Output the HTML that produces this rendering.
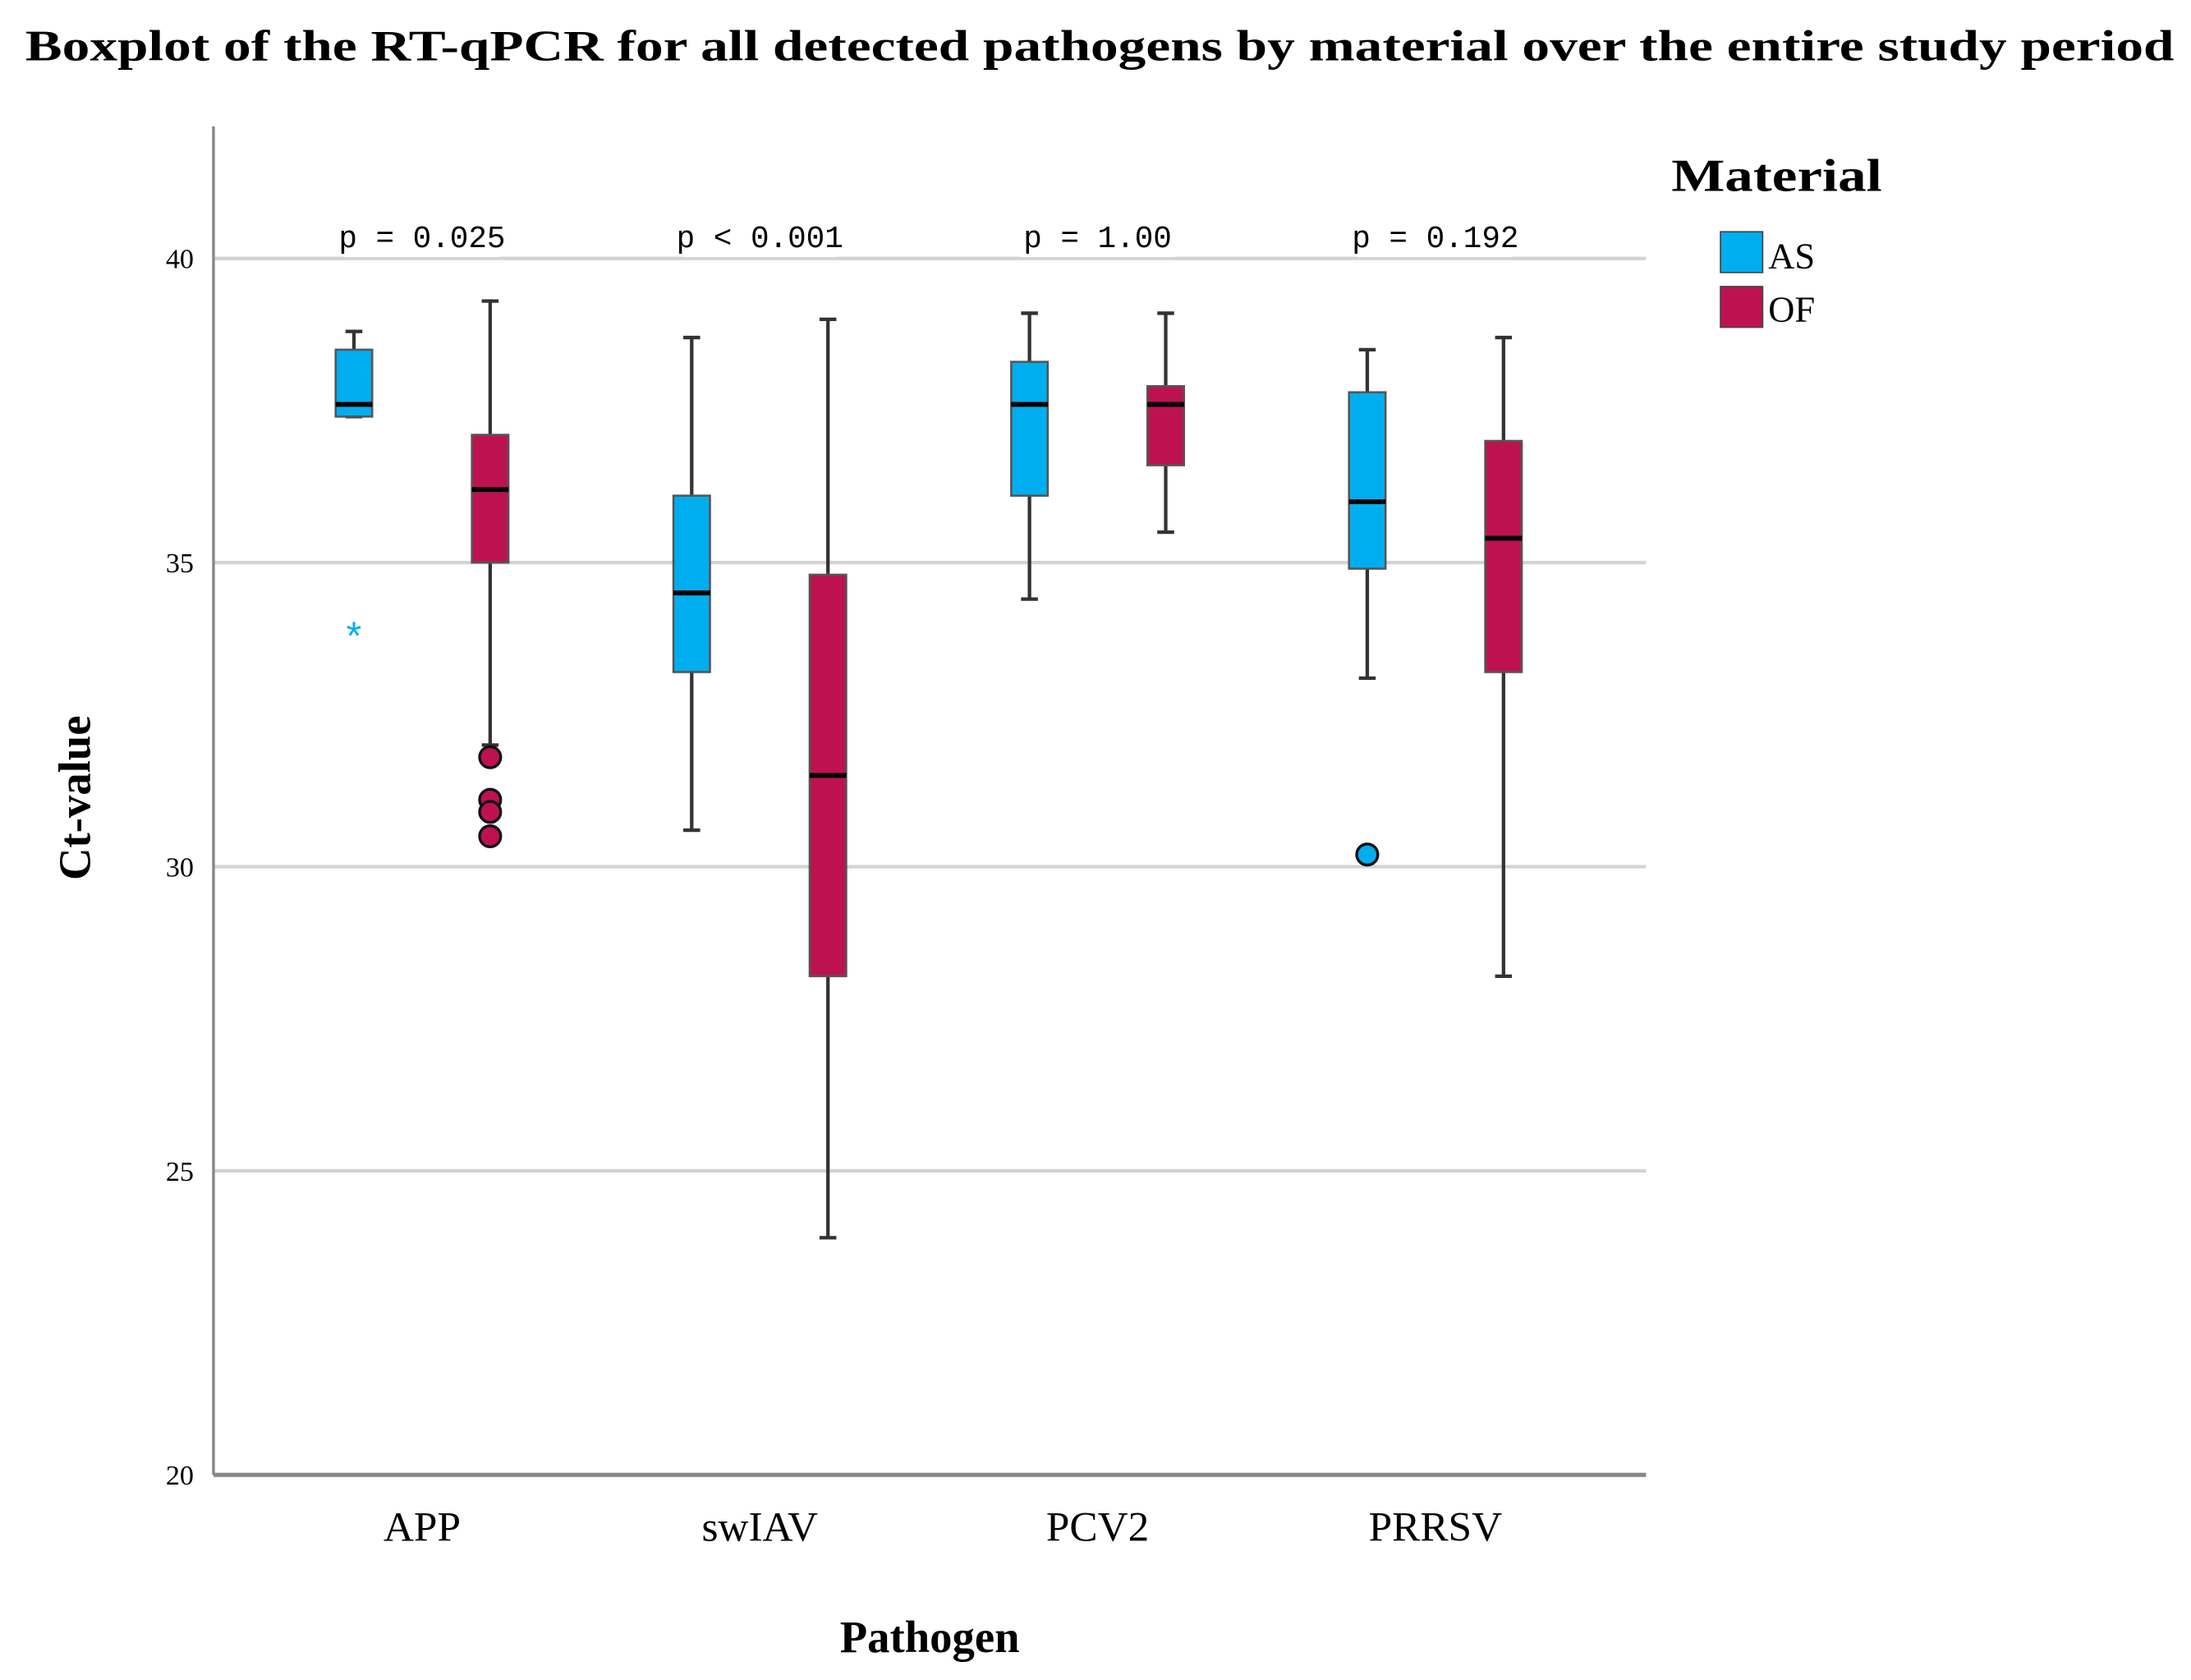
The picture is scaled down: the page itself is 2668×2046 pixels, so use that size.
<!DOCTYPE html>
<html><head><meta charset="utf-8"><style>
html,body{margin:0;padding:0;background:#fff;}
svg{display:block;}
</style></head><body>
<svg id="chart" width="2668" height="2046" viewBox="0 0 1560 1196" preserveAspectRatio="none" xmlns="http://www.w3.org/2000/svg" font-family="'Liberation Serif', serif">
<text x="18" y="43" font-size="31" font-weight="bold" textLength="1530" lengthAdjust="spacingAndGlyphs">Boxplot of the RT-qPCR for all detected pathogens by material over the entire study period</text>
<g id="grid"></g>
<g id="plot"></g>
<line x1="152" y1="90" x2="152" y2="1050" stroke="#888" stroke-width="2"/>
<line x1="152" y1="1050" x2="1172" y2="1050" stroke="#888" stroke-width="3"/>
<text transform="translate(64,568) rotate(-90)" text-anchor="middle" font-size="32" font-weight="bold">Ct-value</text>
<text x="662" y="1176" text-anchor="middle" font-size="32" font-weight="bold">Pathogen</text>
<g>
<text x="1190" y="136" font-size="33" font-weight="bold" textLength="150" lengthAdjust="spacingAndGlyphs">Material</text>
<rect x="1225" y="165" width="30" height="29" fill="#00aeef" stroke="#444" stroke-width="1"/>
<text x="1259" y="191" font-size="26">AS</text>
<rect x="1225" y="204" width="30" height="29" fill="#be1250" stroke="#444" stroke-width="1"/>
<text x="1259" y="229" font-size="26">OF</text>
</g>
</svg>
<script>
const categories = ["APP", "swIAV", "PCV2", "PRRSV"];
const pValues = ["p = 0.025", "p < 0.001", "p = 1.00", "p = 0.192"];
const yTicks = [20, 25, 30, 35, 40];
// [whiskerLow, Q1, median, Q3, whiskerHigh]
const asStats = [[37.4, 37.4, 37.6, 38.5, 38.8],[30.6, 33.2, 34.5, 36.1, 38.7],[34.4, 36.1, 37.6, 38.3, 39.1],[33.1, 34.9, 36.0, 37.8, 38.5]];
const ofStats = [[32.0, 35.0, 36.2, 37.1, 39.3],[23.9, 28.2, 31.5, 34.8, 39.0],[35.5, 36.6, 37.6, 37.9, 39.1],[28.2, 33.2, 35.4, 37.0, 38.7]];
const asOutliers = [[], [], [], [30.2]];
const asExtremes = [[33.9], [], [], []];
const ofOutliers = [[31.8, 31.1, 30.9, 30.5], [], [], []];

const NS = "http://www.w3.org/2000/svg";
const y = v => 1050 - (v - 20) * 43.3;
const xc = i => 300.5 + i * 240.5;
function mk(tag, attrs, parent) {
  const e = document.createElementNS(NS, tag);
  for (const k in attrs) e.setAttribute(k, attrs[k]);
  parent.appendChild(e);
  return e;
}
const grid = document.getElementById("grid");
const plot = document.getElementById("plot");
yTicks.forEach(t => {
  if (t > 20) {
    const l = mk("line", {x1: 152, x2: 1172, y1: y(t), y2: y(t), stroke: "#d3d3d3", "stroke-width": 2.5}, grid);
    
    
  }
  const tx = mk("text", {x: 138, y: y(t) + 7, "text-anchor": "end", "font-size": 20}, grid);
  tx.textContent = t;
  
  
});
function drawBox(cx, s, fill, name) {
  const g = mk("g", {}, plot);
  
  
  mk("line", {x1: cx, x2: cx, y1: y(s[4]), y2: y(s[0]), stroke: "#333", "stroke-width": 2.5}, g);
  mk("line", {x1: cx - 6, x2: cx + 6, y1: y(s[4]), y2: y(s[4]), stroke: "#333", "stroke-width": 2.5}, g);
  mk("line", {x1: cx - 6, x2: cx + 6, y1: y(s[0]), y2: y(s[0]), stroke: "#333", "stroke-width": 2.5}, g);
  mk("rect", {x: cx - 13, y: y(s[3]), width: 26, height: Math.max(1, y(s[1]) - y(s[3])), fill: fill, stroke: "#555", "stroke-width": 1.5}, g);
  mk("line", {x1: cx - 13, x2: cx + 13, y1: y(s[2]), y2: y(s[2]), stroke: "#000", "stroke-width": 3.5}, g);
}
categories.forEach((c, i) => {
  const cx = xc(i);
  const bg = mk("rect", {x: cx - 55, y: y(40) - 28, width: 110, height: 27, fill: "#fff"}, plot);
  
  
  const pt = mk("text", {x: cx, y: y(40) - 8, "text-anchor": "middle", "font-size": 22, "font-family": "'Liberation Mono', monospace"}, plot);
  pt.textContent = pValues[i];
  
  
  const cl = mk("text", {x: cx, y: 1097, "text-anchor": "middle", "font-size": 30}, plot);
  cl.textContent = c;
  
  
  drawBox(cx - 48.5, asStats[i], "#00aeef", "box-as-" + c);
  drawBox(cx + 48.5, ofStats[i], "#be1250", "box-of-" + c);
  asOutliers[i].forEach(v => {
    const o = mk("circle", {cx: cx - 48.5, cy: y(v), r: 7.5, fill: "#00aeef", stroke: "#111", "stroke-width": 2}, plot);
    
    
  });
  ofOutliers[i].forEach(v => {
    const o = mk("circle", {cx: cx + 48.5, cy: y(v), r: 7.5, fill: "#be1250", stroke: "#111", "stroke-width": 2}, plot);
    
    
  });
  asExtremes[i].forEach(v => {
    const o = mk("text", {x: cx - 48.5, y: y(v) + 14, "text-anchor": "middle", "font-size": 28, fill: "#00aeef", "font-family": "'Liberation Sans', sans-serif"}, plot);
    o.textContent = "*";
    
    
  });
});
</script>
</body></html>
